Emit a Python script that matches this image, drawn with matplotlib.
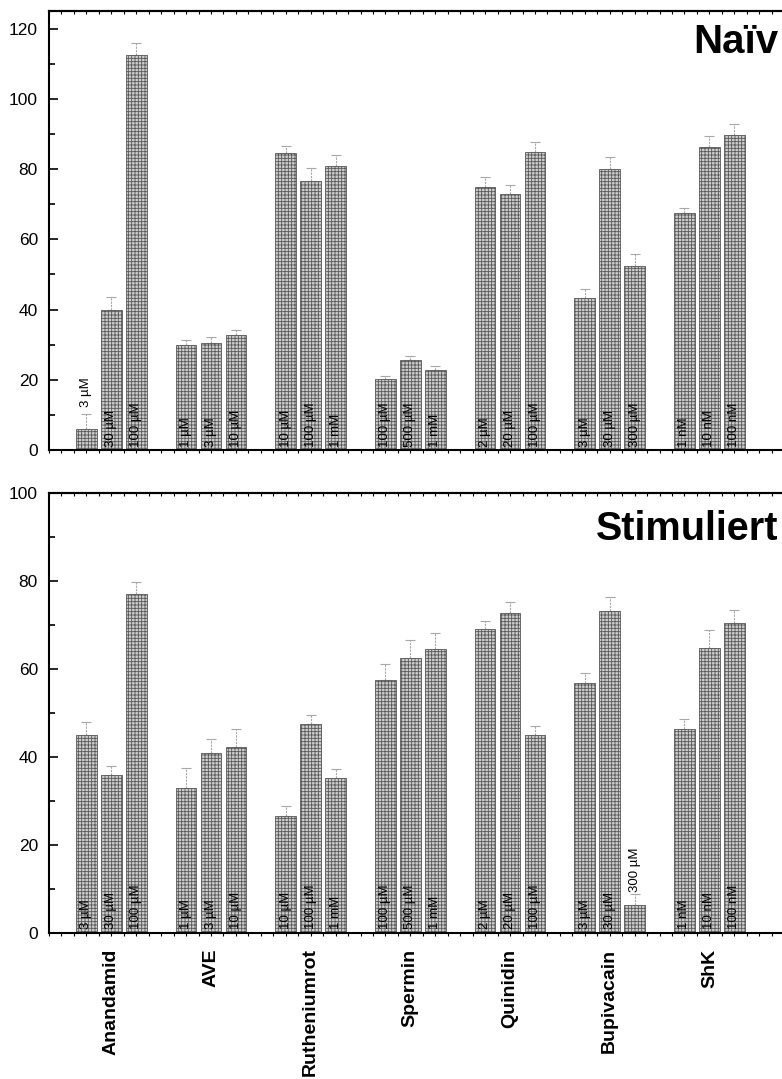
import numpy as np
import matplotlib
matplotlib.use("Agg")
import matplotlib.pyplot as plt
from matplotlib.ticker import MultipleLocator, NullFormatter
from matplotlib.transforms import blended_transform_factory

plt.rcParams['font.family'] = ['Liberation Sans', 'DejaVu Sans']
plt.rcParams['hatch.linewidth'] = 0.6

# substances and their concentrations (three per group)
substances = ['Anandamid', 'AVE', 'Rutheniumrot', 'Spermin', 'Quinidin', 'Bupivacain', 'ShK']
concentrations = [
    ['3 µM', '30 µM', '100 µM'],
    ['1 µM', '3 µM', '10 µM'],
    ['10 µM', '100 µM', '1 mM'],
    ['100 µM', '500 µM', '1 mM'],
    ['2 µM', '20 µM', '100 µM'],
    ['3 µM', '30 µM', '300 µM'],
    ['1 nM', '10 nM', '100 nM'],
]

# naive cells
naiv_mean = [6.0, 40.0, 112.5,
             30.0, 30.5, 32.7,
             84.5, 76.5, 80.9,
             20.3, 25.5, 22.8,
             75.0, 73.0, 85.0,
             43.3, 80.0, 52.5,
             67.5, 86.3, 89.8]
naiv_err = [4.3, 3.7, 3.5,
            1.3, 1.8, 1.5,
            2.0, 3.7, 3.2,
            0.7, 1.2, 1.0,
            2.8, 2.5, 2.8,
            2.5, 3.5, 3.2,
            1.5, 3.0, 3.0]

# stimulated cells
stim_mean = [45.0, 36.0, 77.0,
             33.0, 41.0, 42.3,
             26.6, 47.5, 35.2,
             57.5, 62.5, 64.6,
             69.1, 72.8, 45.0,
             56.8, 73.1, 6.3,
             46.3, 64.8, 70.5]
stim_err = [3.0, 2.0, 2.8,
            4.5, 3.0, 4.0,
            2.2, 2.0, 2.0,
            3.6, 4.0, 3.6,
            1.9, 2.5, 2.0,
            2.3, 3.3, 2.6,
            2.4, 4.0, 3.0]

# bar positions: three bars per group, one empty slot between groups
pos = np.array([4 * g + j for g in range(len(substances)) for j in range(3)], dtype=float)
conc_flat = [c for grp in concentrations for c in grp]
group_centers = np.array([4 * g + 1 for g in range(len(substances))], dtype=float)

fig = plt.figure(figsize=(7.82, 10.79), dpi=100)
ax_top = fig.add_axes([0.0627, 0.5829, 0.956, 0.4069])
ax_bot = fig.add_axes([0.0627, 0.1353, 0.956, 0.4078])


def draw_panel(ax, means, errs, ymax, label_off):
    means = np.asarray(means)
    errs = np.asarray(errs)
    ax.bar(pos, means, width=0.83, facecolor='#cdcdcd', edgecolor='#585858',
           linewidth=0.6, hatch='+++++', zorder=2)
    eb = ax.errorbar(pos, means, yerr=[np.zeros_like(errs), errs], fmt='none',
                     ecolor='#a8a8a8', elinewidth=0.8, capsize=3.5, capthick=0.8, zorder=1)
    eb[2][0].set_linestyle((0, (2, 1)))

    for x, m, e, txt in zip(pos, means, errs, conc_flat):
        if m < 15:
            ax.annotate(txt, (x, m + e), xytext=(0, label_off), textcoords='offset points',
                        rotation=90, ha='center', va='bottom', fontsize=9.5)
        else:
            ax.text(x, 1.0, txt, rotation=90, ha='center', va='bottom', fontsize=9.5, zorder=3)

    ax.set_xlim(-1.5, 28.5)
    ax.set_ylim(0, ymax)
    ax.spines['right'].set_visible(False)
    for s in ('left', 'bottom', 'top'):
        ax.spines[s].set_linewidth(1.5)

    ax.yaxis.set_major_locator(MultipleLocator(20))
    ax.yaxis.set_minor_locator(MultipleLocator(10))
    ax.tick_params(axis='y', which='major', direction='in', length=6.5, width=1.2,
                   labelsize=12.5, pad=8)
    ax.tick_params(axis='y', which='minor', direction='in', length=4, width=1.2)
    ax.tick_params(axis='y', right=False)

    ax.xaxis.set_major_locator(MultipleLocator(0.5))
    ax.xaxis.set_major_formatter(NullFormatter())
    ax.tick_params(axis='x', which='both', direction='out', length=2.5, width=0.8,
                   top=False, bottom=True)
    # small ticks along the top frame, pointing inward
    sec = ax.secondary_xaxis('top')
    sec.xaxis.set_major_locator(MultipleLocator(0.5))
    sec.xaxis.set_major_formatter(NullFormatter())
    sec.tick_params(direction='in', length=2.5, width=0.8)
    sec.spines['top'].set_linewidth(1.5)


draw_panel(ax_top, naiv_mean, naiv_err, 125, 5)
draw_panel(ax_bot, stim_mean, stim_err, 100, 1.5)

# substance names below the lower panel
trans = blended_transform_factory(ax_bot.transData, ax_bot.transAxes)
for xc, name in zip(group_centers, substances):
    ax_bot.text(xc, -0.035, name, transform=trans, rotation=90, ha='center', va='top',
                fontsize=14, fontweight='bold')

fig.text(0.995, 0.9509, 'Naïv', ha='right', va='baseline', fontsize=29, fontweight='bold')
fig.text(0.995, 0.4995, 'Stimuliert', ha='right', va='baseline', fontsize=28.5, fontweight='bold')

fig.savefig('out.png', dpi=100)
